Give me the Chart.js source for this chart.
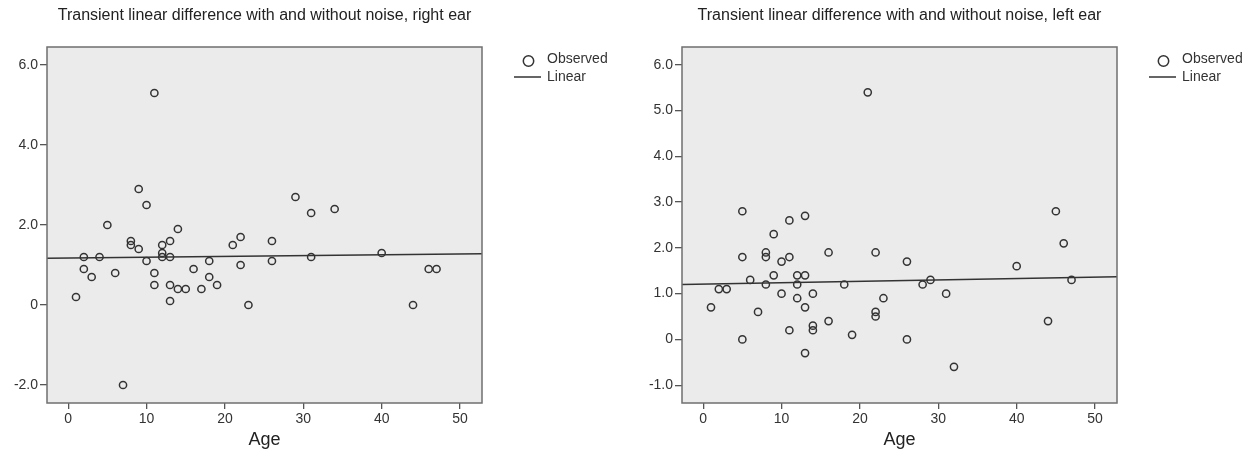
<!DOCTYPE html>
<html>
<head>
<meta charset="utf-8">
<script src="https://cdn.jsdelivr.net/npm/chart.js@4.4.0/dist/chart.umd.min.js"></script>
<style>
  body { margin: 0; background: #fff; }
  #wrap { position: relative; width: 1253px; height: 452px; }
  .panel { position: absolute; top: 0; height: 452px; }
</style>
</head>
<body>
<div id="wrap">
  <div class="panel" style="left:0;width:626px"><canvas id="rightEar" width="626" height="452"></canvas></div>
  <div class="panel" style="left:626px;width:627px"><canvas id="leftEar" width="627" height="452"></canvas></div>
</div>
<script>
// right ear: age vs transient linear difference
const rightAge  = [1, 2, 2, 3, 4, 5, 6, 7, 8, 8, 9, 9, 10, 10, 11, 11, 11, 12, 12, 12, 13, 13, 13, 13,
                   14, 14, 15, 16, 17, 18, 18, 19, 21, 22, 22, 23, 26, 26, 29, 31, 31, 34, 40, 44, 46, 47];
const rightDiff = [0.2, 1.2, 0.9, 0.7, 1.2, 2.0, 0.8, -2.0, 1.6, 1.5, 1.4, 2.9, 2.5, 1.1, 5.3, 0.8, 0.5, 1.5, 1.3, 1.2, 1.6, 1.2, 0.5, 0.1,
                   1.9, 0.4, 0.4, 0.9, 0.4, 1.1, 0.7, 0.5, 1.5, 1.7, 1.0, 0.0, 1.6, 1.1, 2.7, 2.3, 1.2, 2.4, 1.3, 0.0, 0.9, 0.9];

// left ear
const leftAge  = [1, 2, 3, 5, 5, 5, 6, 7, 8, 8, 8, 9, 9, 10, 10, 11, 11, 11, 12, 12, 12, 13, 13, 13, 13,
                  14, 14, 14, 16, 16, 18, 19, 21, 22, 22, 22, 23, 26, 26, 28, 29, 31, 32, 40, 44, 45, 46, 47];
const leftDiff = [0.7, 1.1, 1.1, 2.8, 1.8, 0.0, 1.3, 0.6, 1.9, 1.8, 1.2, 2.3, 1.4, 1.7, 1.0, 2.6, 1.8, 0.2, 1.4, 1.2, 0.9, 2.7, 1.4, 0.7, -0.3,
                  1.0, 0.3, 0.2, 1.9, 0.4, 1.2, 0.1, 5.4, 1.9, 0.6, 0.5, 0.9, 1.7, 0.0, 1.2, 1.3, 1.0, -0.6, 1.6, 0.4, 2.8, 2.1, 1.3];

// fitted linear lines (ends at the axis limits)
const fitAge       = [-2.7, 52.8];
const rightFitDiff = [1.17, 1.28];
const leftFitDiff  = [1.20, 1.37];

const xTicks      = [0, 10, 20, 30, 40, 50];
const rightYTicks = [-2, 0, 2, 4, 6];
const leftYTicks  = [-1, 0, 1, 2, 3, 4, 5, 6];

const FONT = "'Liberation Sans', Arial, Helvetica, sans-serif";
const INK = '#333';

const pairs = (xs, ys) => xs.map((x, i) => ({ x: x, y: ys[i] }));

// grey plot background, frame and the SPSS style legend
const panelPlugin = {
  id: 'panel',
  beforeDraw(chart) {
    const a = chart.chartArea, ctx = chart.ctx;
    ctx.save();
    ctx.fillStyle = '#ebebeb';
    ctx.fillRect(a.left, a.top, a.right - a.left, a.bottom - a.top);
    ctx.restore();
  },
  afterDraw(chart) {
    const a = chart.chartArea, ctx = chart.ctx;
    ctx.save();
    ctx.strokeStyle = '#6f6f6f';
    ctx.lineWidth = 1.5;
    ctx.strokeRect(a.left, a.top, a.right - a.left, a.bottom - a.top);

    // legend
    const lx = a.right;
    ctx.strokeStyle = INK;
    ctx.lineWidth = 1.5;
    ctx.beginPath();
    ctx.arc(lx + 46.5, a.top + 14, 5.2, 0, Math.PI * 2);
    ctx.stroke();
    ctx.beginPath();
    ctx.moveTo(lx + 32, a.top + 30);
    ctx.lineTo(lx + 59, a.top + 30);
    ctx.stroke();
    ctx.fillStyle = INK;
    ctx.font = '14px ' + FONT;
    ctx.textBaseline = 'middle';
    ctx.fillText('Observed', lx + 65, a.top + 12);
    ctx.fillText('Linear', lx + 65, a.top + 30);
    ctx.restore();
  }
};

function makeChart(id, title, ages, diffs, fitDiff, yTicks, yMin, yMax, axisWidth, padRight) {
  return new Chart(document.getElementById(id), {
    data: {
      datasets: [{
        type: 'scatter',
        label: 'Observed',
        data: pairs(ages, diffs),
        pointRadius: 3.6,
        pointBorderWidth: 1.5,
        pointBorderColor: INK,
        pointBackgroundColor: 'rgba(0,0,0,0)'
      }, {
        type: 'line',
        label: 'Linear',
        data: pairs(fitAge, fitDiff),
        borderColor: INK,
        borderWidth: 1.5,
        pointRadius: 0,
        fill: false
      }]
    },
    options: {
      responsive: false,
      animation: false,
      events: [],
      layout: { padding: { left: 0, right: padRight, top: 0, bottom: 0 } },
      plugins: {
        legend: { display: false },
        tooltip: { enabled: false },
        title: {
          display: true,
          text: title,
          fullSize: false,
          color: '#222',
          font: { family: FONT, size: 16, weight: 'normal' },
          padding: { top: 6.4, bottom: 21.4 }
        }
      },
      scales: {
        x: {
          type: 'linear',
          min: fitAge[0],
          max: fitAge[1],
          afterBuildTicks: s => { s.ticks = xTicks.map(v => ({ value: v })); },
          afterFit: s => { s.height = 49; },
          border: { display: false },
          grid: { drawOnChartArea: false, color: '#555', lineWidth: 1.3, tickLength: 6 },
          ticks: { color: INK, font: { family: FONT, size: 14 }, padding: 2 },
          title: {
            display: true,
            text: 'Age',
            color: '#222',
            font: { family: FONT, size: 18 },
            padding: { top: 0, bottom: 1.2 }
          }
        },
        y: {
          type: 'linear',
          min: yMin,
          max: yMax,
          afterBuildTicks: s => { s.ticks = yTicks.map(v => ({ value: v })); },
          afterFit: s => { s.width = axisWidth; },
          border: { display: false },
          grid: { drawOnChartArea: false, color: '#555', lineWidth: 1.3, tickLength: 7 },
          ticks: {
            color: INK,
            font: { family: FONT, size: 14 },
            padding: 2,
            callback: v => v === 0 ? '0' : v.toFixed(1)
          }
        }
      }
    },
    plugins: [panelPlugin]
  });
}

makeChart('rightEar', 'Transient linear difference with and without noise, right ear',
  rightAge, rightDiff, rightFitDiff, rightYTicks, -2.45, 6.45, 47, 144);
makeChart('leftEar', 'Transient linear difference with and without noise, left ear',
  leftAge, leftDiff, leftFitDiff, leftYTicks, -1.39, 6.39, 56, 136);
</script>
</body>
</html>
